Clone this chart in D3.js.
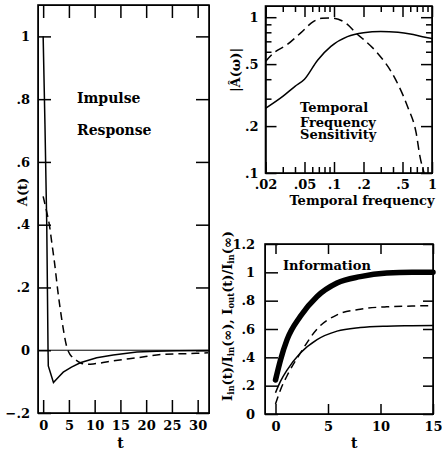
<!DOCTYPE html>
<html><head><meta charset="utf-8">
<script src="https://cdn.jsdelivr.net/npm/d3@7"></script>
<style>
body{margin:0;background:#fff;}
svg{display:block;}
text{font-family:"DejaVu Serif",serif;font-weight:bold;fill:#000;}
</style></head>
<body>
<script>
// ---- Impulse response (left panel)
const impTSolid = [0, 0.35, 0.7, 0.95, 1.0, 2.0, 3.0, 3.9, 5.5, 7.2, 10.4, 13.6, 18.2, 22, 26, 32];
const impSolid  = [1.0, 0.72, 0.40, 0.0, -0.05, -0.103, -0.085, -0.07, -0.054, -0.04, -0.024, -0.015, -0.006, -0.003, -0.002, -0.001];
const impTDash  = [0, 0.7, 1.2, 1.7, 2.2, 2.84, 3.6, 4.6, 5.2, 5.9, 7.2, 8.4, 10, 13.6, 18.2, 23.3, 29.7, 32];
const impDash   = [0.49, 0.44, 0.40, 0.34, 0.28, 0.19, 0.10, 0.01, -0.013, -0.025, -0.04, -0.045, -0.043, -0.034, -0.024, -0.013, -0.01, -0.008];
const impXTicks = [0, 5, 10, 15, 20, 25, 30];
const impYTicks = [-0.2, 0, 0.2, 0.4, 0.6, 0.8, 1];

// ---- Temporal frequency sensitivity (top right)
const freqSolid = [0.02, 0.03, 0.04, 0.05, 0.068, 0.093, 0.137, 0.2, 0.3, 0.45, 0.6, 0.8, 1.0];
const ampSolid  = [0.26, 0.31, 0.36, 0.40, 0.53, 0.65, 0.75, 0.795, 0.81, 0.80, 0.78, 0.75, 0.73];
const freqDash  = [0.02, 0.024, 0.033, 0.0455, 0.062, 0.075, 0.088, 0.1, 0.137, 0.168, 0.2, 0.277, 0.41, 0.564, 0.69, 0.755, 0.83];
const ampDash   = [0.52, 0.587, 0.664, 0.79, 0.94, 0.985, 0.99, 0.985, 0.9, 0.79, 0.72, 0.59, 0.415, 0.266, 0.18, 0.127, 0.1];
const freqMajor = [0.02, 0.05, 0.1, 0.2, 0.5, 1];
const freqMajorLabels = [".02", ".05", ".1", ".2", ".5", "1"];
const ampMajor = [0.1, 0.2, 0.5, 1];
const ampMajorLabels = [".1", ".2", ".5", "1"];

// ---- Information (bottom right)
const infoT     = [0, 0.47, 1.1, 2.37, 3.96, 5.86, 8.07, 10.6, 13, 15];
const infoThick = [0.24, 0.38, 0.525, 0.69, 0.83, 0.925, 0.97, 0.995, 1.0, 1.0];
const infoDash  = [0.07, 0.17, 0.27, 0.43, 0.6, 0.70, 0.74, 0.757, 0.762, 0.765];
const infoThin  = [0.15, 0.23, 0.31, 0.43, 0.525, 0.585, 0.61, 0.62, 0.623, 0.625];
const infoXTicks = [0, 5, 10, 15];
const infoYTicks = [0, 0.2, 0.4, 0.6, 0.8, 1, 1.2];

const fmt = v => v === 0 ? "0" : (v < 0 ? "\u2212" : "") + (Math.abs(v) >= 1 && Math.abs(v) % 1 === 0 ? String(Math.abs(v)) : String(Math.abs(v)).replace(/^0/, ""));

const svg = d3.select("body").append("svg").attr("width", 442).attr("height", 452);

function drawFrame(g, x0, y0, x1, y1) {
  g.append("rect").attr("x", x0).attr("y", y0).attr("width", x1 - x0).attr("height", y1 - y0)
    .attr("fill", "none").attr("stroke", "#000").attr("stroke-width", 1.6);
}
// one d3 axis per side: inward ticks (+ labels when a format is given)
function side(g, axisFn, scale, values, tx, ty, len, format, pad, fs) {
  const a = axisFn(scale).tickValues(values).tickSize(-len).tickPadding(pad || 6);
  a.tickFormat(format || (() => ""));
  const s = g.append("g").attr("transform", `translate(${tx},${ty})`).call(a);
  s.selectAll(".tick line").attr("stroke", "#000").attr("stroke-width", 1.5);
  s.selectAll("text").style("font-size", (fs || 13) + "px");
  return s;
}
function pathOf(x, y, xs, ys, curve) {
  return d3.line().x((d, i) => x(xs[i])).y((d, i) => y(ys[i])).curve(curve || d3.curveMonotoneX)(ys);
}

// ===== Left panel
{
  const L = 38, R = 209, T = 5, B = 413;
  const x = d3.scaleLinear().domain([-1, 32.2]).range([L, R]);
  const y = d3.scaleLinear().domain([-0.2, 1.1]).range([B, T]);
  const g = svg.append("g");
  g.append("line").attr("x1", L).attr("x2", R).attr("y1", y(0)).attr("y2", y(0)).attr("stroke", "#000").attr("stroke-width", 1);
  drawFrame(g, L, T, R, B);
  side(g, d3.axisLeft, y, impYTicks, L, 0, 13, fmt, 8);
  side(g, d3.axisRight, y, impYTicks, R, 0, 13);
  side(g, d3.axisBottom, x, impXTicks, 0, B, 13, d3.format("d"), 8);
  side(g, d3.axisTop, x, impXTicks, 0, T, 13);
  g.append("path").attr("d", pathOf(x, y, impTSolid, impSolid, d3.curveLinear)).attr("fill", "none").attr("stroke", "#000").attr("stroke-width", 1.5);
  g.append("path").attr("d", pathOf(x, y, impTDash, impDash)).attr("fill", "none").attr("stroke", "#000").attr("stroke-width", 1.5).attr("stroke-dasharray", "8,5");
  g.append("text").attr("x", 77).attr("y", 103).style("font-size", "14px").text("Impulse");
  g.append("text").attr("x", 77).attr("y", 135).style("font-size", "14px").text("Response");
  g.append("text").attr("transform", "translate(27,192) rotate(-90)").attr("text-anchor", "middle").style("font-size", "13px").text("A(t)");
  g.append("text").attr("x", x(15)).attr("y", 448).attr("text-anchor", "middle").style("font-size", "14px").text("t");
}

// ===== Top right panel
{
  const L = 265.5, R = 432, T = 6, B = 173;
  const x = d3.scaleLog().domain([0.02, 1]).range([L, R]);
  const y = d3.scaleLog().domain([0.1, 1.18]).range([B, T]);
  const minorX = x.ticks().filter(v => !freqMajor.some(m => Math.abs(m - v) < 1e-9));
  const minorY = y.ticks().filter(v => !ampMajor.some(m => Math.abs(m - v) < 1e-9) && v <= 1.18);
  const g = svg.append("g");
  const lab = (arr, lbl) => (d => lbl[arr.findIndex(m => Math.abs(m - d) < 1e-9)]);
  drawFrame(g, L, T, R, B);
  side(g, d3.axisBottom, x, freqMajor, 0, B, 11, lab(freqMajor, freqMajorLabels), 7);
  side(g, d3.axisBottom, x, minorX, 0, B, 6);
  side(g, d3.axisTop, x, freqMajor, 0, T, 11);
  side(g, d3.axisTop, x, minorX, 0, T, 6);
  side(g, d3.axisLeft, y, ampMajor, L, 0, 11, lab(ampMajor, ampMajorLabels), 7);
  side(g, d3.axisLeft, y, minorY, L, 0, 6);
  side(g, d3.axisRight, y, ampMajor, R, 0, 11);
  side(g, d3.axisRight, y, minorY, R, 0, 6);
  const lf = (xs, ys) => d3.line().x((d, i) => x(xs[i])).y((d, i) => y(ys[i])).curve(d3.curveMonotoneX)(ys);
  g.append("path").attr("d", lf(freqSolid, ampSolid)).attr("fill", "none").attr("stroke", "#000").attr("stroke-width", 1.5);
  g.append("path").attr("d", lf(freqDash, ampDash)).attr("fill", "none").attr("stroke", "#000").attr("stroke-width", 1.5).attr("stroke-dasharray", "9,5");
  const tt = g.append("g").style("font-size", "13px");
  tt.append("text").attr("x", 300).attr("y", 112).text("Temporal");
  tt.append("text").attr("x", 300).attr("y", 127).text("Frequency");
  tt.append("text").attr("x", 300).attr("y", 139).text("Sensitivity");
  g.append("text").attr("x", 362).attr("y", 205).attr("text-anchor", "middle").style("font-size", "13px").text("Temporal frequency");
  g.append("text").attr("transform", "translate(240,70) rotate(-90)").attr("text-anchor", "middle").style("font-size", "13px").text("|\u00C2(\u03C9)|");
}

// ===== Bottom right panel
{
  const L = 265, R = 433, T = 244, B = 414;
  const x = d3.scaleLinear().domain([-1, 15]).range([L, R]);
  const y = d3.scaleLinear().domain([0, 1.2]).range([B, T]);
  const g = svg.append("g");
  drawFrame(g, L, T, R, B);
  side(g, d3.axisLeft, y, infoYTicks, L, 0, 13, fmt, 10);
  side(g, d3.axisRight, y, infoYTicks, R, 0, 10);
  side(g, d3.axisBottom, x, infoXTicks, 0, B, 10, d3.format("d"), 8);
  side(g, d3.axisTop, x, infoXTicks, 0, T, 10);
  const lf = (ys) => d3.line().x((d, i) => x(infoT[i])).y((d, i) => y(ys[i])).curve(d3.curveMonotoneX)(ys);
  g.append("path").attr("d", lf(infoThick)).attr("fill", "none").attr("stroke", "#000").attr("stroke-width", 5.5).attr("stroke-linecap", "round");
  g.append("path").attr("d", lf(infoDash)).attr("fill", "none").attr("stroke", "#000").attr("stroke-width", 1.5).attr("stroke-dasharray", "8,5");
  g.append("path").attr("d", lf(infoThin)).attr("fill", "none").attr("stroke", "#000").attr("stroke-width", 1.5);
  g.append("text").attr("x", 283).attr("y", 270).style("font-size", "13px").text("Information");
  g.append("text").attr("x", x(7.5)).attr("y", 448).attr("text-anchor", "middle").style("font-size", "14px").text("t");
  const yl = g.append("text").attr("transform", "translate(232,316) rotate(-90)").attr("text-anchor", "middle").style("font-size", "13px");
  const parts = [["I",0],["in",1],["(t)/I",0],["in",1],["(\u221E), I",0],["out",1],["(t)/I",0],["in",1],["(\u221E)",0]];
  parts.forEach(([s, sub]) => {
    const ts = yl.append("tspan").text(s);
    if (sub) ts.attr("baseline-shift", "-25%").style("font-size", "8.5px");
  });
}
</script>
</body></html>
